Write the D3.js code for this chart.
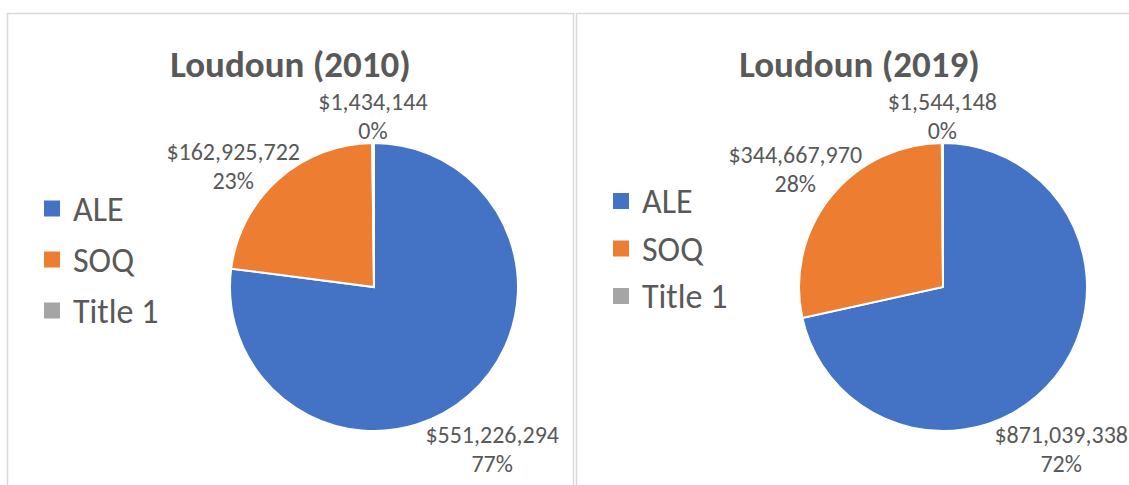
<!DOCTYPE html>
<html>
<head>
<meta charset="utf-8">
<script src="https://cdn.jsdelivr.net/npm/d3@7"></script>
<style>
  body { margin: 0; background: #fff; }
  svg { display: block; font-family: Carlito, Calibri, Lato, sans-serif; }
</style>
</head>
<body>
<svg id="chart" width="1129" height="485"></svg>
<script>
// data
var categories = ["ALE", "SOQ", "Title 1"];
var chart_titles = ["Loudoun (2010)", "Loudoun (2019)"];
var values_2010 = [551226294, 162925722, 1434144];
var values_2019 = [871039338, 344667970, 1544148];
var slice_colors = ["#4472C4", "#ED7D31", "#A5A5A5"];

var text_color = "#595959";
var box_w = 567, box_top = 13;
var pie_r = 144, line_h = 29;
var lab_pad = 11;

// each chart box, legend rows are spaced a little differently in the original
var charts = [
  {x0: 7, title: chart_titles[0], values: values_2010, leg_top: 208.5, leg_step: 51},
  {x0: 576, title: chart_titles[1], values: values_2019, leg_top: 201, leg_step: 47.5}
];

var svg = d3.select("svg#chart");
var fmt_money = d3.format("$,");

var pie = d3.pie().sort(null).value(function(d) { return d; });
var arc = d3.arc().innerRadius(0).outerRadius(pie_r);

charts.forEach(function(c) {
	var g = svg.append("g").attr("transform", "translate(" + c.x0 + "," + box_top + ")");

	// chart border
	g.append("rect")
		.attr("x", 0.5).attr("y", 0.5)
		.attr("width", box_w - 1).attr("height", 600)
		.attr("fill", "#fff")
		.attr("stroke", "#d9d9d9")
		.attr("stroke-width", 1.5);

	g.append("text")
		.attr("x", box_w / 2).attr("y", 64)
		.attr("text-anchor", "middle")
		.attr("font-size", 37).attr("font-weight", "bold")
		.attr("fill", text_color)
		.text(c.title);

	// legend
	var leg = g.selectAll(".legend")
		.data(categories)
		.enter().append("g")
		.attr("class", "legend")
		.attr("transform", function(d, i) {
			return "translate(37," + (c.leg_top - box_top + i * c.leg_step) + ")";
		});
	leg.append("rect")
		.attr("x", 0).attr("y", -8).attr("width", 16).attr("height", 16)
		.attr("fill", function(d, i) { return slice_colors[i]; });
	leg.append("text")
		.attr("x", 29).attr("y", 0).attr("dy", "0.36em")
		.attr("font-size", 34)
		.attr("fill", text_color)
		.text(function(d) { return d; });

	// pie
	var cx = 367, cy = 274;
	var total = d3.sum(c.values);
	var arcs = pie(c.values);
	var pg = g.append("g").attr("transform", "translate(" + cx + "," + cy + ")");
	pg.selectAll("path")
		.data(arcs)
		.enter().append("path")
		.attr("d", arc)
		.attr("fill", function(d, i) { return slice_colors[i]; })
		.attr("stroke", "#fff")
		.attr("stroke-width", 2);

	// data labels: outside end, kept inside the chart box, nudged round the pie if they collide
	var lab = pg.selectAll(".lab")
		.data(arcs)
		.enter().append("text")
		.attr("class", "lab")
		.attr("text-anchor", "middle")
		.attr("font-size", 24)
		.attr("fill", text_color);
	lab.append("tspan").attr("x", 0).attr("y", -line_h / 2).attr("dy", "0.36em")
		.text(function(d) { return fmt_money(d.data); });
	lab.append("tspan").attr("x", 0).attr("y", line_h / 2).attr("dy", "0.36em")
		.text(function(d) { return Math.round(d.data / total * 100) + "%"; });

	var placed = [];
	lab.nodes().reverse().forEach(function(node) {
		var d = d3.select(node).datum();
		var ts = d3.select(node).selectAll("tspan").nodes();
		var boxes = ts.map(function(n, i) {
			return {hw: n.getComputedTextLength() / 2, oy: (i - 0.5) * line_h, hh: 10};
		});
		var hw = d3.max(boxes, function(b) { return b.hw; });
		var hits = function(x, y) {
			return boxes.some(function(b) {
				var nx = Math.max(x - b.hw, Math.min(0, x + b.hw));
				var ny = Math.max(y + b.oy - b.hh, Math.min(0, y + b.oy + b.hh));
				return Math.sqrt(nx * nx + ny * ny) < pie_r + 2;
			});
		};
		var spot = function(a) {
			var dx = Math.sin(a), dy = -Math.cos(a);
			var t = pie_r;
			while (hits(dx * t, dy * t)) t++;
			var x = dx * t, y = dy * t;
			x = Math.max(15 - cx + hw, Math.min(box_w - 15 - cx - hw, x));
			var sy = dy >= 0 ? 1 : -1;
			while (hits(x, y)) y += sy;
			return {x: x, y: y, hw: hw, hh: line_h / 2 + 10, a: a};
		};
		var clash = function(p) {
			return placed.filter(function(q) {
				return Math.abs(p.x - q.x) < p.hw + q.hw + 2 * lab_pad &&
					Math.abs(p.y - q.y) < p.hh + q.hh;
			})[0];
		};
		var a = (d.startAngle + d.endAngle) / 2;
		var p = spot(a), k = 0, q;
		while ((q = clash(p)) && k < 200) {
			a += (a < q.a ? -1 : 1) * Math.PI / 360;
			p = spot(a);
			k++;
		}
		placed.push(p);
		d3.select(node).attr("transform", "translate(" + p.x + "," + p.y + ")");
	});
});
</script>
</body>
</html>
